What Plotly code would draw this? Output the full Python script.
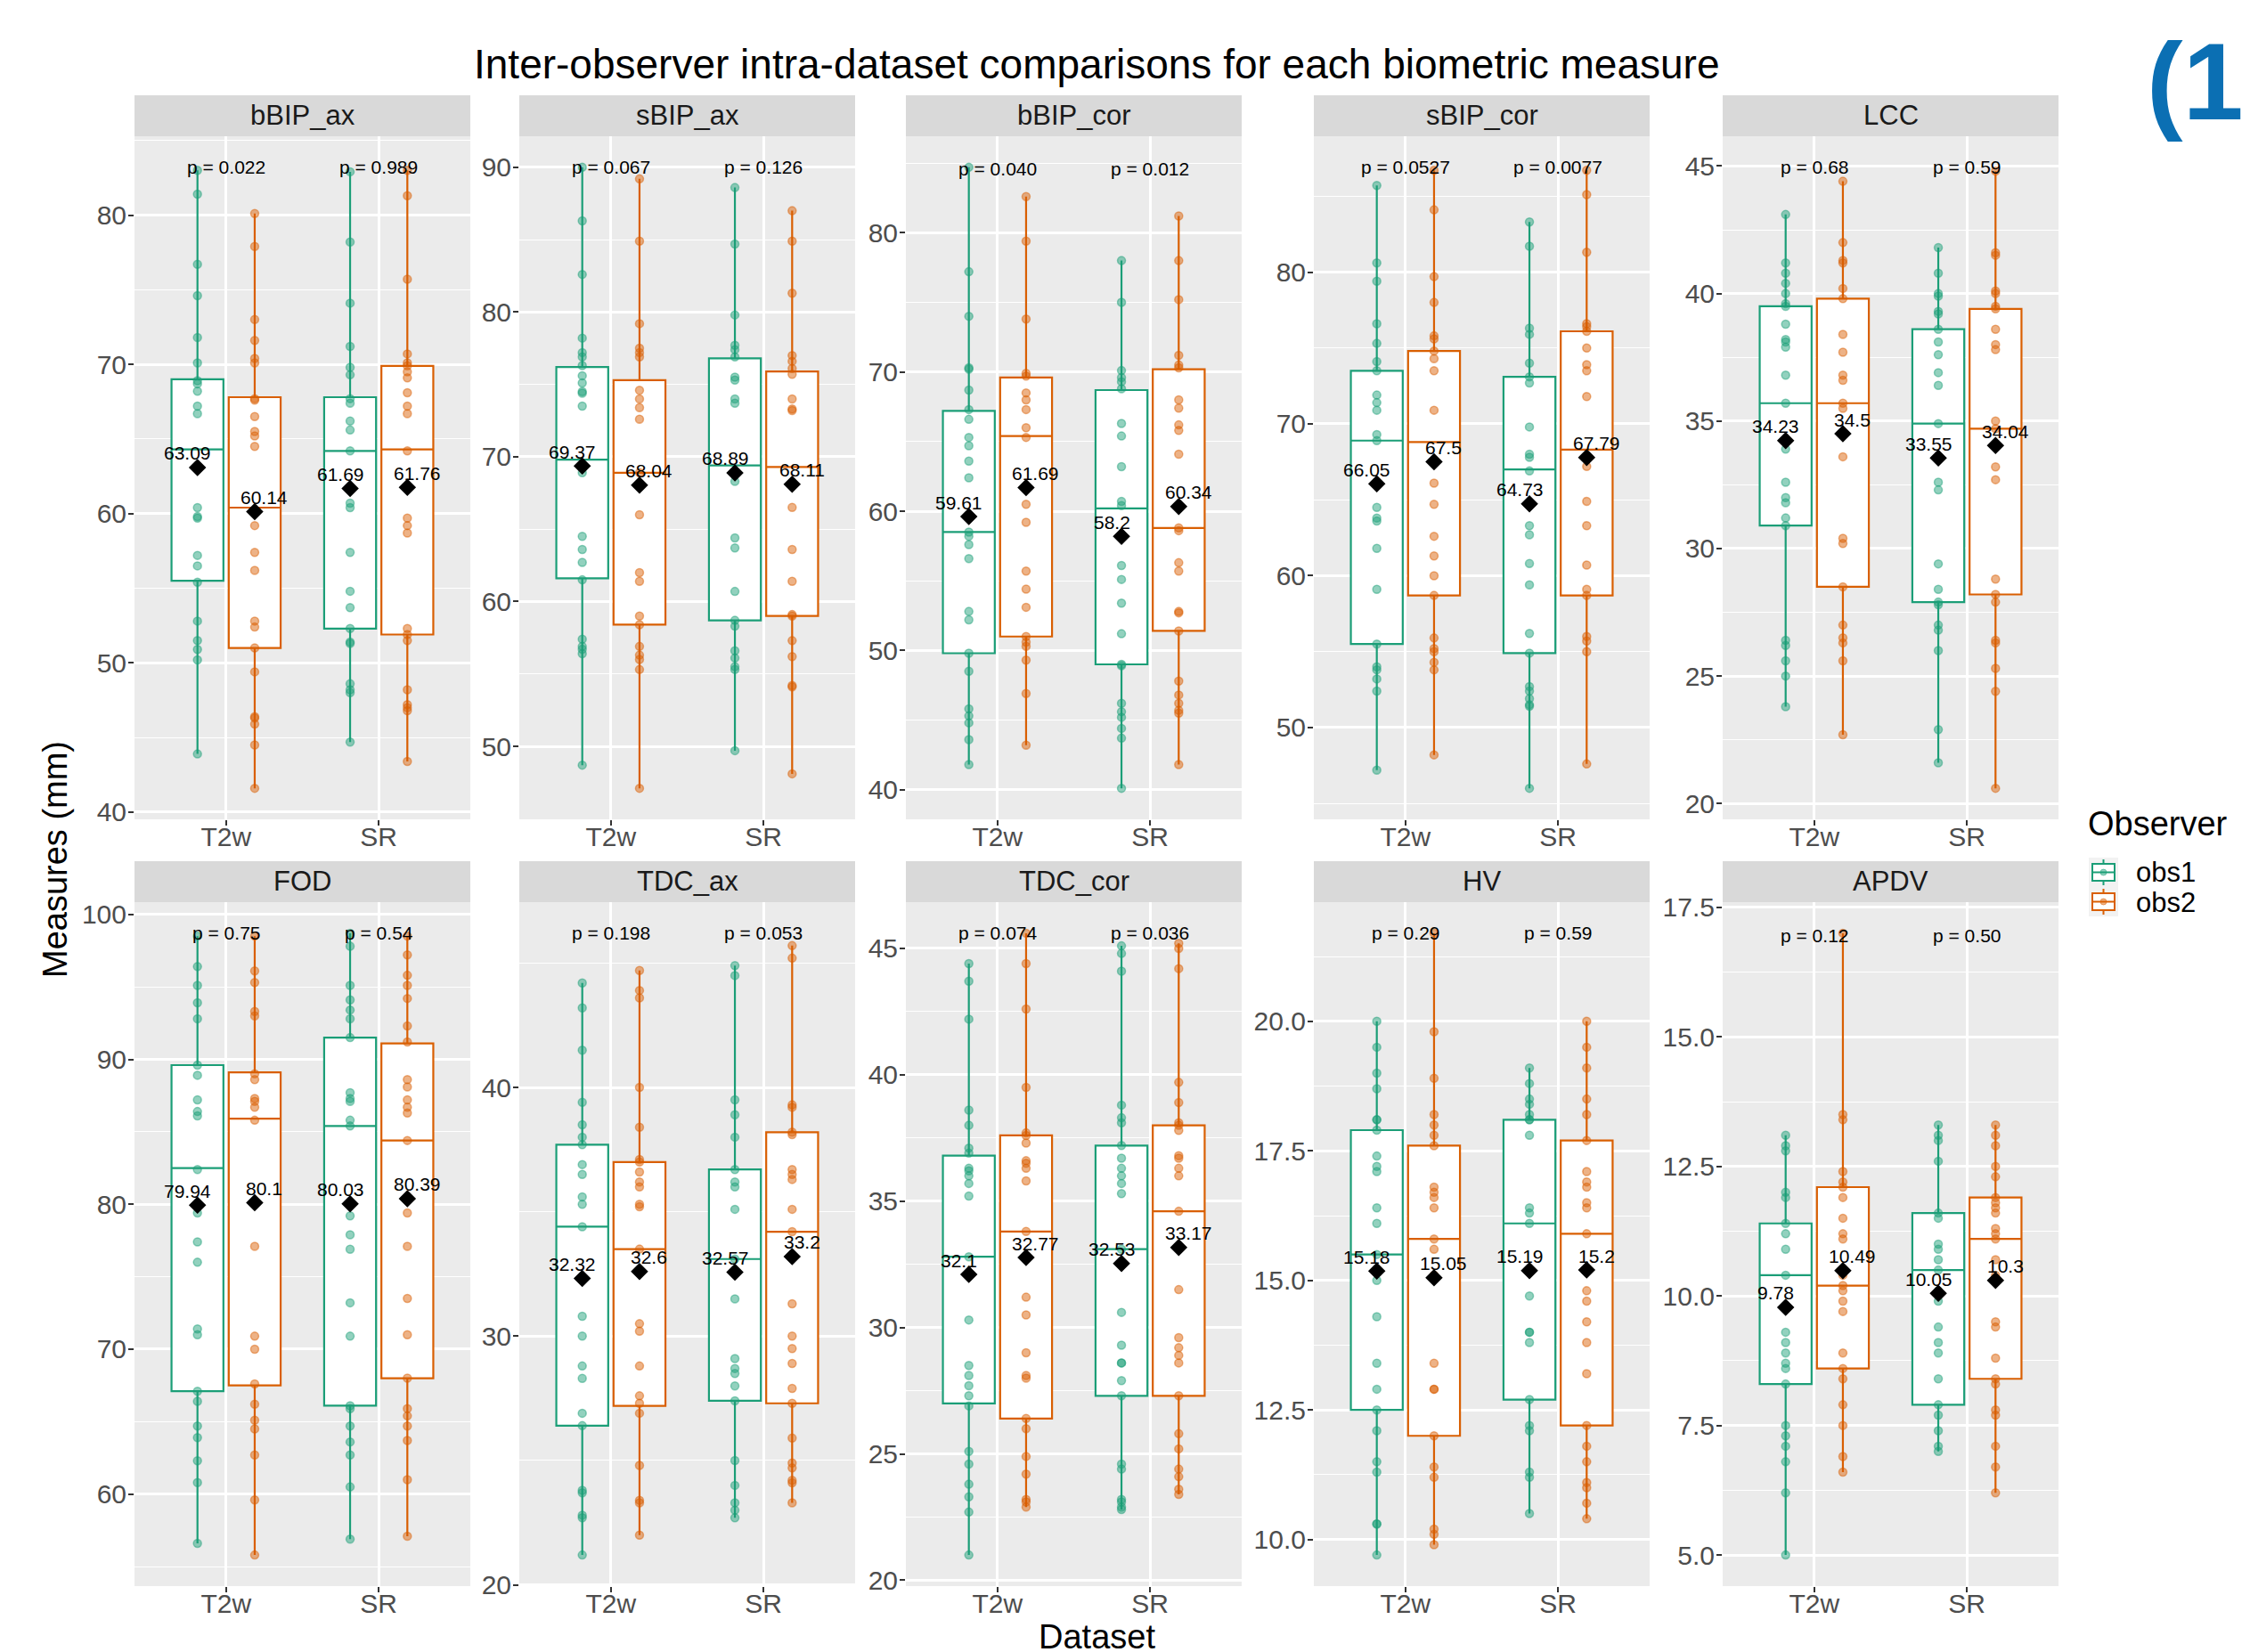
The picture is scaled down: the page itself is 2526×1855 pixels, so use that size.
import plotly.graph_objects as go

# ---------------- data ----------------
measures = ["bBIP_ax", "sBIP_ax", "bBIP_cor", "sBIP_cor", "LCC",
            "FOD", "TDC_ax", "TDC_cor", "HV", "APDV"]
datasets = ["T2w", "SR"]
observers = ["obs1", "obs2"]

bBIP_ax_T2w_obs1 = [83.0, 81.4, 76.7, 74.6, 71.8, 70.1, 68.9, 68.7, 68.2, 67.2, 66.7, 60.4, 59.8, 59.7, 57.2, 56.5, 55.4, 52.8, 51.5, 50.9, 50.2, 43.9]
bBIP_ax_T2w_obs2 = [80.1, 77.9, 73.0, 71.6, 70.4, 70.1, 67.7, 67.6, 66.5, 65.5, 65.2, 64.5, 60.1, 59.2, 57.4, 56.2, 52.8, 52.4, 51.0, 49.4, 46.4, 46.3, 45.9, 44.5, 41.6]
bBIP_ax_SR_obs1 = [82.9, 78.2, 74.1, 71.2, 69.8, 69.3, 67.7, 67.4, 66.2, 65.6, 64.2, 60.7, 60.4, 57.4, 54.8, 53.7, 52.3, 51.4, 51.3, 48.6, 48.2, 48.0, 44.7]
bBIP_ax_SR_obs2 = [83.0, 81.3, 75.7, 70.7, 70.1, 69.9, 69.5, 69.1, 68.1, 67.2, 66.7, 64.2, 59.7, 59.2, 58.7, 52.3, 51.9, 51.5, 48.2, 47.2, 47.0, 46.8, 43.4]

sBIP_ax_T2w_obs1 = [90.0, 86.3, 82.6, 78.2, 77.2, 76.9, 76.3, 75.6, 75.1, 74.5, 74.4, 73.5, 68.9, 64.5, 63.6, 62.7, 61.5, 57.4, 56.9, 56.7, 56.4, 48.7]
sBIP_ax_T2w_obs2 = [89.2, 84.9, 79.2, 77.5, 77.2, 76.9, 74.6, 74.0, 73.4, 72.6, 68.9, 66.0, 62.0, 61.4, 59.0, 58.4, 56.9, 56.3, 56.0, 55.3, 47.1]
sBIP_ax_SR_obs1 = [88.6, 84.7, 79.8, 77.7, 77.4, 76.9, 75.5, 75.3, 74.0, 73.7, 68.9, 68.3, 64.4, 63.7, 60.7, 58.7, 58.3, 56.6, 56.1, 55.5, 55.3, 49.7]
sBIP_ax_SR_obs2 = [87.0, 84.9, 81.3, 77.0, 76.6, 76.1, 75.7, 74.0, 73.3, 73.2, 66.5, 63.6, 61.4, 59.1, 59.0, 57.3, 56.2, 54.2, 54.1, 48.1]

bBIP_cor_T2w_obs1 = [84.7, 77.2, 74.0, 70.3, 70.2, 68.7, 67.3, 66.6, 65.3, 64.7, 63.6, 62.4, 58.5, 58.2, 57.6, 56.6, 52.8, 52.2, 49.8, 48.5, 45.8, 45.3, 44.8, 43.6, 41.8]
bBIP_cor_T2w_obs2 = [82.6, 79.4, 73.8, 69.9, 69.7, 68.5, 68.0, 67.3, 66.0, 65.3, 60.5, 59.2, 55.7, 54.4, 53.1, 51.0, 50.6, 50.3, 49.3, 46.9, 43.2]
bBIP_cor_SR_obs1 = [78.0, 75.0, 70.1, 69.6, 69.3, 68.8, 66.3, 65.4, 63.2, 60.7, 60.4, 56.1, 55.1, 53.4, 51.2, 49.0, 48.9, 46.2, 45.6, 45.2, 44.4, 43.7, 40.1]
bBIP_cor_SR_obs2 = [81.2, 78.0, 75.2, 71.2, 70.5, 70.3, 68.0, 67.4, 66.2, 65.8, 64.1, 58.8, 58.6, 56.3, 55.7, 52.8, 52.7, 51.4, 47.8, 46.8, 46.2, 45.7, 45.5, 41.8]

sBIP_cor_T2w_obs1 = [85.7, 80.6, 79.4, 76.6, 75.3, 74.1, 73.5, 71.9, 71.4, 70.9, 69.3, 68.9, 64.5, 63.8, 63.6, 61.8, 59.1, 55.5, 54.0, 53.8, 53.2, 52.4, 47.2]
sBIP_cor_T2w_obs2 = [86.7, 84.1, 79.7, 78.0, 75.8, 75.6, 74.8, 74.3, 73.5, 70.9, 66.1, 64.7, 62.6, 61.3, 60.0, 58.7, 55.9, 55.2, 55.0, 54.3, 53.8, 48.2]
sBIP_cor_SR_obs1 = [83.3, 81.7, 76.3, 75.9, 74.0, 73.1, 72.7, 69.8, 68.0, 67.8, 66.9, 63.3, 62.7, 60.8, 59.4, 56.2, 54.9, 52.7, 52.4, 51.9, 51.5, 51.4, 46.0]
sBIP_cor_SR_obs2 = [86.7, 85.1, 81.3, 76.6, 76.4, 76.1, 75.0, 73.9, 73.5, 71.8, 67.2, 64.9, 63.3, 60.7, 59.1, 58.7, 56.0, 55.7, 55.0, 47.6]

LCC_T2w_obs1 = [43.1, 41.2, 40.8, 40.4, 40.0, 39.6, 39.5, 38.8, 38.2, 38.1, 37.9, 36.8, 35.7, 33.9, 32.6, 32.0, 31.8, 31.2, 30.9, 26.4, 26.2, 25.6, 25.0, 23.8]
LCC_T2w_obs2 = [44.4, 42.0, 41.3, 41.2, 40.2, 39.8, 38.4, 37.7, 36.8, 36.6, 35.7, 35.5, 34.5, 33.6, 30.4, 30.2, 28.5, 27.0, 26.5, 26.3, 25.6, 22.7]
LCC_SR_obs1 = [41.8, 40.8, 40.0, 39.9, 39.3, 39.2, 38.6, 38.1, 37.6, 36.9, 36.4, 34.9, 33.5, 32.6, 32.3, 29.4, 28.4, 27.9, 27.8, 27.0, 26.8, 26.0, 22.9, 21.6]
LCC_SR_obs2 = [44.8, 41.6, 41.5, 40.1, 40.0, 39.5, 39.4, 38.6, 38.0, 37.8, 35.0, 34.7, 33.2, 32.7, 28.8, 28.2, 27.9, 26.4, 26.3, 25.3, 24.4, 20.6]

FOD_T2w_obs1 = [98.5, 96.4, 95.1, 93.9, 92.8, 89.6, 88.9, 87.2, 86.4, 86.1, 82.4, 79.4, 77.4, 76.0, 71.4, 71.0, 67.1, 66.4, 64.7, 63.9, 62.3, 60.8, 56.6]
FOD_T2w_obs2 = [98.5, 96.1, 95.3, 93.3, 93.0, 89.0, 88.6, 87.3, 87.1, 86.7, 85.8, 77.1, 70.9, 70.0, 67.6, 66.2, 65.1, 64.5, 62.7, 59.6, 55.8]
FOD_SR_obs1 = [98.7, 97.8, 95.1, 94.1, 93.4, 92.8, 91.5, 87.7, 87.3, 87.1, 85.8, 85.4, 79.2, 77.9, 76.9, 73.2, 70.9, 66.1, 65.9, 64.7, 63.6, 62.7, 60.5, 56.9]
FOD_SR_obs2 = [98.5, 97.2, 95.8, 95.1, 94.2, 92.3, 91.2, 88.6, 88.1, 87.2, 86.7, 86.3, 84.4, 79.4, 77.1, 73.5, 71.0, 68.0, 65.9, 65.4, 64.7, 63.7, 61.0, 57.1]

TDC_ax_T2w_obs1 = [44.2, 43.2, 41.5, 39.4, 38.5, 38.0, 37.7, 36.9, 36.5, 35.6, 35.3, 34.4, 30.8, 30.0, 28.8, 28.3, 26.9, 26.4, 23.8, 23.7, 22.8, 22.7, 21.2]
TDC_ax_T2w_obs2 = [44.7, 43.9, 43.6, 40.0, 38.4, 37.1, 37.0, 36.6, 36.2, 36.0, 35.3, 35.2, 33.5, 30.5, 30.2, 28.8, 27.6, 27.3, 26.9, 24.8, 23.4, 23.3, 22.0]
TDC_ax_SR_obs1 = [44.9, 44.5, 39.5, 38.9, 38.0, 36.7, 36.2, 36.0, 35.1, 33.1, 31.5, 29.1, 28.7, 28.5, 28.0, 27.4, 25.0, 24.0, 23.3, 23.0, 22.7]
TDC_ax_SR_obs2 = [45.7, 45.2, 39.3, 39.2, 38.2, 38.1, 36.7, 36.5, 36.3, 35.1, 34.2, 31.3, 30.0, 29.5, 28.9, 27.9, 27.3, 25.9, 24.9, 24.7, 24.2, 24.1, 23.3]

TDC_cor_T2w_obs1 = [44.4, 43.7, 42.2, 38.6, 38.0, 37.1, 36.9, 36.3, 36.2, 36.0, 35.7, 35.2, 32.8, 30.3, 28.5, 28.1, 27.7, 27.3, 26.9, 25.1, 24.6, 23.8, 23.3, 22.7, 21.0]
TDC_cor_T2w_obs2 = [45.6, 44.4, 42.6, 39.5, 37.7, 37.6, 37.3, 36.6, 36.5, 36.3, 35.8, 33.8, 31.2, 30.5, 29.0, 28.1, 28.0, 26.4, 26.0, 24.9, 24.2, 23.2, 23.1, 22.9]
TDC_cor_SR_obs1 = [45.1, 44.8, 44.1, 38.8, 38.3, 38.1, 37.2, 36.7, 36.3, 36.0, 35.7, 35.3, 33.1, 30.6, 29.3, 28.6, 28.6, 27.9, 27.3, 24.6, 24.4, 23.2, 23.1, 22.9, 22.8]
TDC_cor_SR_obs2 = [45.2, 45.0, 44.2, 39.7, 38.9, 38.1, 38.0, 37.8, 36.8, 36.7, 36.3, 36.0, 34.6, 31.5, 29.6, 29.2, 28.9, 28.6, 27.3, 25.8, 25.2, 24.4, 24.1, 23.6, 23.4]

HV_T2w_obs1 = [20.0, 19.5, 19.0, 18.7, 18.1, 18.1, 17.9, 17.4, 17.2, 17.1, 16.4, 16.1, 15.5, 15.2, 15.0, 14.3, 13.4, 12.9, 12.5, 12.1, 11.5, 11.3, 10.3, 10.3, 9.7]
HV_T2w_obs2 = [21.7, 19.8, 18.9, 18.2, 18.0, 17.8, 17.6, 16.8, 16.7, 16.6, 16.4, 15.8, 15.6, 15.1, 13.4, 12.9, 12.9, 12.0, 11.4, 11.2, 10.2, 10.1, 9.9]
HV_SR_obs1 = [19.1, 18.8, 18.5, 18.4, 18.2, 18.1, 18.1, 17.8, 16.4, 16.3, 16.1, 15.2, 14.7, 14.0, 14.0, 13.8, 12.7, 12.2, 12.1, 11.3, 11.2, 10.5]
HV_SR_obs2 = [20.0, 19.5, 19.1, 18.5, 18.2, 17.7, 17.1, 16.9, 16.8, 16.5, 16.4, 15.9, 14.8, 14.6, 14.2, 13.8, 13.2, 12.2, 11.8, 11.5, 11.1, 11.0, 10.7, 10.4]

APDV_T2w_obs1 = [13.1, 12.9, 12.8, 12.0, 11.9, 11.4, 11.2, 10.9, 10.4, 9.3, 9.1, 8.9, 8.7, 8.6, 8.3, 7.5, 7.3, 7.1, 6.8, 6.2, 5.0]
APDV_T2w_obs2 = [17.0, 13.5, 13.4, 12.4, 12.2, 12.1, 11.9, 11.5, 11.2, 11.1, 10.4, 10.2, 10.1, 9.9, 9.7, 8.9, 8.6, 8.4, 7.9, 7.5, 6.9, 6.6]
APDV_SR_obs1 = [13.3, 13.1, 13.0, 12.6, 11.6, 11.5, 11.0, 10.9, 10.7, 10.5, 10.1, 9.9, 9.4, 9.1, 8.9, 8.4, 7.9, 7.7, 7.4, 7.1, 7.0]
APDV_SR_obs2 = [13.3, 13.1, 12.9, 12.5, 12.3, 11.9, 11.8, 11.7, 11.6, 11.3, 11.2, 11.1, 10.7, 10.4, 9.5, 9.4, 8.8, 8.4, 8.3, 7.8, 7.7, 7.1, 6.7, 6.2]

# box statistics (one value per measure)
q1_T2w_obs1 = [55.5, 61.6, 49.8, 55.5, 30.9, 67.1, 26.4, 27.0, 12.5, 8.3]
med_T2w_obs1 = [64.3, 69.8, 58.5, 68.9, 35.7, 82.5, 34.4, 32.8, 15.5, 10.4]
q3_T2w_obs1 = [69.0, 76.2, 67.2, 73.5, 39.5, 89.6, 37.7, 36.8, 17.9, 11.4]
q1_T2w_obs2 = [51.0, 58.4, 51.0, 58.7, 28.5, 67.5, 27.2, 26.4, 12.0, 8.6]
med_T2w_obs2 = [60.4, 68.9, 65.4, 68.8, 35.7, 85.9, 33.5, 33.8, 15.8, 10.2]
q3_T2w_obs2 = [67.8, 75.3, 69.6, 74.8, 39.8, 89.1, 37.0, 37.6, 17.6, 12.1]
q1_SR_obs1 = [52.3, 58.7, 49.0, 54.9, 27.9, 66.1, 27.4, 27.3, 12.7, 7.9]
med_SR_obs1 = [64.2, 69.4, 60.2, 67.0, 34.9, 85.4, 33.1, 33.1, 16.1, 10.5]
q3_SR_obs1 = [67.8, 76.8, 68.7, 73.1, 38.6, 91.5, 36.7, 37.2, 18.1, 11.6]
q1_SR_obs2 = [51.9, 59.0, 51.4, 58.7, 28.2, 68.0, 27.3, 27.3, 12.2, 8.4]
med_SR_obs2 = [64.3, 69.3, 58.8, 68.3, 34.7, 84.4, 34.2, 34.6, 15.9, 11.1]
q3_SR_obs2 = [69.9, 75.9, 70.2, 76.1, 39.4, 91.1, 38.2, 38.0, 17.7, 11.9]

mean_T2w_obs1 = [63.09, 69.37, 59.61, 66.05, 34.23, 79.94, 32.32, 32.1, 15.18, 9.78]
mean_T2w_obs2 = [60.14, 68.04, 61.69, 67.5, 34.5, 80.1, 32.6, 32.77, 15.05, 10.49]
mean_SR_obs1 = [61.69, 68.89, 58.2, 64.73, 33.55, 80.03, 32.57, 32.53, 15.19, 10.05]
mean_SR_obs2 = [61.76, 68.11, 60.34, 67.79, 34.04, 80.39, 33.2, 33.17, 15.2, 10.3]

p_T2w = ["p = 0.022", "p = 0.067", "p = 0.040", "p = 0.0527", "p = 0.68",
         "p = 0.75", "p = 0.198", "p = 0.074", "p = 0.29", "p = 0.12"]
p_SR = ["p = 0.989", "p = 0.126", "p = 0.012", "p = 0.0077", "p = 0.59",
        "p = 0.54", "p = 0.053", "p = 0.036", "p = 0.59", "p = 0.50"]
p_label_y = [83.2, 90.0, 84.6, 86.9, 44.95, 98.7, 46.2, 45.6, 21.7, 16.96]

y_dtick = [10, 10, 10, 10, 5, 10, 10, 5, 2.5, 2.5]
y_format = ["d", "d", "d", "d", "d", "d", "d", "d", ".1f", ".1f"]

# --------------- lookups ---------------
g = globals()
points = {(m, d, o): g[f"{m}_{d}_{o}"] for m in measures for d in datasets for o in observers}
q1s = {(d, o): g[f"q1_{d}_{o}"] for d in datasets for o in observers}
meds = {(d, o): g[f"med_{d}_{o}"] for d in datasets for o in observers}
q3s = {(d, o): g[f"q3_{d}_{o}"] for d in datasets for o in observers}
means = {(d, o): g[f"mean_{d}_{o}"] for d in datasets for o in observers}
p_text = {"T2w": p_T2w, "SR": p_SR}

colors = {"obs1": "#1b9e77", "obs2": "#d95f02"}
pt_fill = {"obs1": "rgba(27,158,119,0.48)", "obs2": "rgba(217,95,2,0.48)"}

# --------------- layout geometry (pixels) ---------------
W, H = 2526, 1855
OFF = 8  # page body margin compensation
col_x0 = [151, 583, 1017, 1475, 1934]
panel_w = 377
strip_top = [107, 967]
strip_h = 46
panel_bottom = [920, 1781]

def px(x):
    return (x - OFF) / W

def py(y):
    return 1 - (y - OFF) / H

FONT = "Liberation Sans, Arial, sans-serif"

fig = go.Figure()
layout = dict(width=W, height=H,
              margin=dict(l=0, r=0, t=0, b=0, pad=0, autoexpand=False),
              paper_bgcolor="white", plot_bgcolor="#ebebeb", template="none",
              showlegend=False, boxmode="overlay", font=dict(family=FONT))
annotations = []
shapes = []

box_off = 0.1875
lab_off = 0.25

for i, m in enumerate(measures):
    r, c = divmod(i, 5)
    xa = "x" if i == 0 else f"x{i+1}"
    ya = "y" if i == 0 else f"y{i+1}"
    xkey = "xaxis" if i == 0 else f"xaxis{i+1}"
    ykey = "yaxis" if i == 0 else f"yaxis{i+1}"
    x0 = col_x0[c]
    x1 = x0 + panel_w
    ptop = strip_top[r] + strip_h
    pbot = panel_bottom[r]

    allv = []
    for di, d in enumerate(datasets):
        for oi, o in enumerate(observers):
            vals = points[(m, d, o)]
            allv += vals
            sgn = -1 if oi == 0 else 1
            pos = di + 1 + sgn * box_off
            col = colors[o]
            fig.add_trace(go.Box(
                x=[pos], q1=[q1s[(d, o)][i]], median=[meds[(d, o)][i]],
                q3=[q3s[(d, o)][i]], lowerfence=[min(vals)], upperfence=[max(vals)],
                width=0.34, fillcolor="white", line=dict(color=col, width=2.2),
                whiskerwidth=0, boxpoints=False, xaxis=xa, yaxis=ya,
                showlegend=False, hoverinfo="skip"))
            fig.add_trace(go.Scatter(
                x=[pos] * len(vals), y=vals, mode="markers",
                marker=dict(size=9, color=pt_fill[o],
                            line=dict(color=pt_fill[o], width=1.5)),
                xaxis=xa, yaxis=ya, showlegend=False, hoverinfo="skip"))
            mv = means[(d, o)][i]
            fig.add_trace(go.Scatter(
                x=[pos], y=[mv], mode="markers",
                marker=dict(symbol="diamond", size=15, color="black"),
                xaxis=xa, yaxis=ya, showlegend=False, hoverinfo="skip"))
            annotations.append(dict(
                x=di + 1 + sgn * lab_off, y=mv, xref=xa, yref=ya,
                text=f"{mv:g}", showarrow=False, yshift=16,
                xanchor="center", yanchor="middle",
                font=dict(size=21, color="black", family=FONT)))
        annotations.append(dict(
            x=di + 1, y=p_label_y[i], xref=xa, yref=ya, text=p_text[d][i],
            showarrow=False, xanchor="center", yanchor="middle",
            font=dict(size=21, color="black", family=FONT)))

    lo = min(allv)
    hi = max(max(allv), p_label_y[i])
    span = hi - lo
    yr = [lo - 0.05 * span, hi + 0.05 * span]

    layout[xkey] = dict(domain=[px(x0), px(x1)], anchor=ya, range=[0.4, 2.6],
                        tickmode="array", tickvals=[1, 2], ticktext=datasets,
                        showgrid=True, gridcolor="white", gridwidth=2.5,
                        zeroline=False, showline=False, ticks="outside",
                        ticklen=6, tickwidth=2, tickcolor="#333333",
                        ticklabelstandoff=-13, automargin=False,
                        tickfont=dict(size=30, color="#4d4d4d", family=FONT))
    yax = dict(domain=[py(pbot), py(ptop)], anchor=xa, range=yr,
               tick0=0, dtick=y_dtick[i],
               showgrid=True, gridcolor="white", gridwidth=2.5,
               zeroline=False, showline=False, ticks="outside",
               ticklen=6, tickwidth=2, tickcolor="#333333",
               ticklabelstandoff=-4, automargin=False,
               tickfont=dict(size=30, color="#4d4d4d", family=FONT),
               minor=dict(dtick=y_dtick[i] / 2, tick0=0, showgrid=True,
                          gridcolor="white", gridwidth=1.3, ticks=""))
    if y_format[i] != "d":
        yax["tickformat"] = y_format[i]
    layout[ykey] = yax

    # facet strip
    shapes.append(dict(type="rect", xref="paper", yref="paper",
                       x0=px(x0), x1=px(x1), y0=py(ptop), y1=py(strip_top[r]),
                       fillcolor="#d9d9d9", line=dict(width=0), layer="below"))
    annotations.append(dict(x=px((x0 + x1) / 2), y=py(strip_top[r] + strip_h / 2),
                            xref="paper", yref="paper", text=m, showarrow=False,
                            xanchor="center", yanchor="middle",
                            font=dict(size=31, color="#1a1a1a", family=FONT)))

# titles
annotations.append(dict(x=px(1231), y=py(72), xref="paper", yref="paper",
                        text="Inter-observer intra-dataset comparisons for each biometric measure",
                        showarrow=False, xanchor="center", yanchor="middle",
                        font=dict(size=46, color="black", family=FONT)))
annotations.append(dict(x=px(2408), y=py(92), xref="paper", yref="paper",
                        text="<b>(1</b>", showarrow=False, xanchor="left", yanchor="middle",
                        font=dict(size=122, color="#0b6fb3", family=FONT)))
annotations.append(dict(x=px(1231), y=py(1838), xref="paper", yref="paper",
                        text="Dataset", showarrow=False, xanchor="center", yanchor="middle",
                        font=dict(size=38, color="black", family=FONT)))
annotations.append(dict(x=px(62), y=py(965), xref="paper", yref="paper",
                        text="Measures (mm)", textangle=-90, showarrow=False,
                        xanchor="center", yanchor="middle",
                        font=dict(size=38, color="black", family=FONT)))

# legend (drawn manually, ggplot style)
annotations.append(dict(x=px(2342), y=py(925), xref="paper", yref="paper",
                        text="Observer", showarrow=False, xanchor="left", yanchor="middle",
                        font=dict(size=38, color="black", family=FONT)))
for k, o in enumerate(observers):
    ky = 963 + k * 33
    col = colors[o]
    shapes.append(dict(type="rect", xref="paper", yref="paper",
                       x0=px(2345), x1=px(2378), y0=py(ky + 33), y1=py(ky),
                       fillcolor="#f2f2f2", line=dict(width=0)))
    shapes.append(dict(type="line", xref="paper", yref="paper",
                       x0=px(2361.5), x1=px(2361.5), y0=py(ky + 31), y1=py(ky + 2),
                       line=dict(color=col, width=2)))
    shapes.append(dict(type="rect", xref="paper", yref="paper",
                       x0=px(2349), x1=px(2374), y0=py(ky + 26), y1=py(ky + 7),
                       fillcolor="white", line=dict(color=col, width=2)))
    shapes.append(dict(type="line", xref="paper", yref="paper",
                       x0=px(2349), x1=px(2374), y0=py(ky + 16.5), y1=py(ky + 16.5),
                       line=dict(color=col, width=2)))
    shapes.append(dict(type="circle", xref="paper", yref="paper",
                       x0=px(2358), x1=px(2365), y0=py(ky + 20), y1=py(ky + 13),
                       fillcolor=pt_fill[o], line=dict(color=pt_fill[o], width=1)))
    annotations.append(dict(x=px(2396), y=py(ky + 17), xref="paper", yref="paper",
                            text=o, showarrow=False, xanchor="left", yanchor="middle",
                            font=dict(size=31, color="black", family=FONT)))

layout["annotations"] = annotations
layout["shapes"] = shapes
fig.update_layout(**layout)
fig.write_html("out.html")
